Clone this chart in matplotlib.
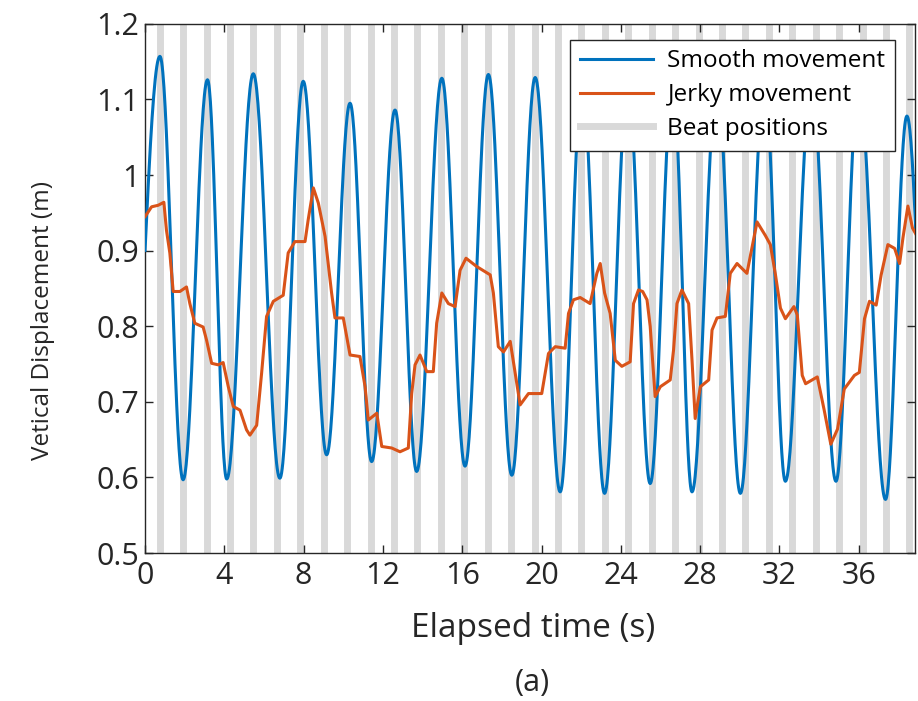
import numpy as np
import matplotlib
matplotlib.use('Agg')
import matplotlib.pyplot as plt

# beat positions (s)
beats = [0.75, 1.93, 3.11, 4.29, 5.47, 6.66, 7.84, 9.02, 10.20, 11.38,
         12.56, 13.74, 14.92, 16.11, 17.29, 18.47, 19.65, 20.83, 22.01,
         23.19, 24.37, 25.56, 26.74, 27.92, 29.10, 30.28, 31.46, 32.64,
         33.82, 35.01, 36.19, 37.37, 38.55]

# smooth movement: turning points (peak / trough) of the blue curve
smooth_t = [-0.83, 0.75, 1.92, 3.15, 4.12, 5.46, 6.80, 7.98, 9.16, 10.34,
            11.43, 12.61, 13.70, 14.97, 16.14, 17.32, 18.50, 19.68, 20.94,
            22.05, 23.18, 24.35, 25.48, 26.62, 27.59, 28.85, 30.03, 31.25,
            32.30, 33.62, 34.85, 36.00, 37.35, 38.43, 39.60]
smooth_v = [0.600, 1.157, 0.597, 1.126, 0.598, 1.134, 0.599, 1.124, 0.630,
            1.095, 0.621, 1.086, 0.608, 1.128, 0.615, 1.133, 0.603, 1.129,
            0.581, 1.120, 0.579, 1.120, 0.592, 1.120, 0.581, 1.120, 0.579,
            1.120, 0.595, 1.120, 0.595, 1.120, 0.571, 1.078, 0.600]

# jerky movement
jerky_t = [0.00, 0.33, 0.66, 0.95, 1.08, 1.25, 1.42, 1.76, 2.09, 2.26,
           2.51, 2.93, 3.10, 3.36, 3.69, 3.94, 4.20, 4.45, 4.79, 5.12,
           5.29, 5.63, 5.88, 6.13, 6.47, 6.97, 7.22, 7.56, 8.07, 8.23,
           8.49, 8.74, 9.08, 9.41, 9.58, 10.00, 10.34, 10.84, 11.10, 11.26,
           11.69, 11.94, 12.44, 12.86, 13.28, 13.45, 13.62, 13.87, 14.21, 14.54,
           14.71, 14.97, 15.30, 15.64, 15.89, 16.19, 16.73, 17.41, 17.57, 17.82,
           18.08, 18.42, 18.67, 18.92, 19.34, 20.01, 20.35, 20.69, 21.19, 21.36,
           21.61, 21.95, 22.45, 22.79, 22.96, 23.18, 23.46, 23.72, 24.05, 24.47,
           24.64, 24.89, 25.10, 25.32, 25.48, 25.73, 25.99, 26.49, 26.66, 26.83,
           27.08, 27.42, 27.59, 27.75, 28.01, 28.43, 28.60, 28.85, 29.27, 29.52,
           29.86, 30.36, 30.62, 30.87, 31.29, 31.54, 31.80, 32.05, 32.30, 32.73,
           32.90, 33.15, 33.32, 33.91, 34.25, 34.59, 34.93, 35.27, 35.78, 36.03,
           36.29, 36.54, 36.88, 37.13, 37.47, 37.81, 38.06, 38.23, 38.48, 38.71,
           38.90]
jerky_v = [0.945, 0.958, 0.960, 0.964, 0.927, 0.897, 0.846, 0.846, 0.852, 0.830,
           0.804, 0.799, 0.782, 0.751, 0.749, 0.752, 0.720, 0.694, 0.689, 0.663,
           0.656, 0.669, 0.738, 0.813, 0.833, 0.841, 0.897, 0.912, 0.912, 0.941,
           0.983, 0.963, 0.919, 0.844, 0.811, 0.811, 0.762, 0.760, 0.720, 0.676,
           0.685, 0.641, 0.639, 0.634, 0.639, 0.711, 0.749, 0.762, 0.740, 0.740,
           0.804, 0.844, 0.830, 0.826, 0.874, 0.890, 0.879, 0.868, 0.844, 0.773,
           0.766, 0.780, 0.738, 0.696, 0.711, 0.711, 0.764, 0.773, 0.771, 0.817,
           0.835, 0.838, 0.830, 0.870, 0.883, 0.844, 0.817, 0.755, 0.747, 0.753,
           0.830, 0.848, 0.846, 0.835, 0.800, 0.707, 0.720, 0.729, 0.769, 0.830,
           0.848, 0.830, 0.755, 0.678, 0.720, 0.729, 0.795, 0.811, 0.813, 0.870,
           0.883, 0.870, 0.905, 0.938, 0.920, 0.908, 0.868, 0.824, 0.810, 0.826,
           0.815, 0.735, 0.724, 0.733, 0.690, 0.644, 0.664, 0.717, 0.735, 0.739,
           0.810, 0.833, 0.828, 0.868, 0.908, 0.903, 0.883, 0.917, 0.959, 0.930,
           0.921]

x_ticks = [0, 4, 8, 12, 16, 20, 24, 28, 32, 36]
y_ticks = [0.5, 0.6, 0.7, 0.8, 0.9, 1.0, 1.1, 1.2]
y_tick_labels = ['0.5', '0.6', '0.7', '0.8', '0.9', '1', '1.1', '1.2']

BLUE = '#0072BD'
ORANGE = '#D95319'
GREY = '#D9D9D9'
INK = '#262626'


def half_waves(ts, vs, n=40):
    # rounded half-cycles between successive turning points
    xs, ys = [], []
    for i in range(len(ts) - 1):
        s = np.linspace(0, 1, n, endpoint=False)
        xs.append(ts[i] + s * (ts[i + 1] - ts[i]))
        ys.append(vs[i] + (vs[i + 1] - vs[i]) * (1 - np.cos(np.pi * s)) / 2)
    xs.append([ts[-1]])
    ys.append([vs[-1]])
    return np.concatenate(xs), np.concatenate(ys)


plt.rcParams['font.family'] = ['Open Sans', 'DejaVu Sans']

fig = plt.figure(figsize=(9.18, 7.01), dpi=100)
ax = fig.add_axes([0.158, 0.211, 0.839, 0.755])

ax.vlines(beats, 0.5, 1.2, color=GREY, lw=5, zorder=1)
st, sv = half_waves(smooth_t, smooth_v)
ax.plot(st, sv, color=BLUE, lw=2.2, zorder=3, label='Smooth movement')
ax.plot(jerky_t, jerky_v, color=ORANGE, lw=2.2, zorder=4,
        solid_joinstyle='round', label='Jerky movement')
ax.plot([], [], color=GREY, lw=5, label='Beat positions')

ax.set_xlim(0, 38.85)
ax.set_ylim(0.5, 1.2)
ax.set_xticks(x_ticks)
ax.set_yticks(y_ticks)
ax.set_yticklabels(y_tick_labels)
ax.tick_params(direction='in', length=6, width=1, colors=INK, labelsize=22,
               top=True, right=True)
ax.tick_params(axis='x', pad=6)
ax.tick_params(axis='y', pad=4)
for sp in ax.spines.values():
    sp.set_color(INK)
    sp.set_linewidth(1.0)

leg = ax.legend(loc='upper right', bbox_to_anchor=(0.974, 0.970),
                borderaxespad=0, fontsize=17.5, frameon=True, fancybox=False,
                handlelength=3.0, handletextpad=0.6, labelspacing=0.4,
                borderpad=0.4)
leg.get_frame().set_edgecolor(INK)
leg.get_frame().set_linewidth(1.0)
leg.get_frame().set_alpha(1)

fig.text(0.047, 0.543, 'Vetical Displacement (m)', rotation=90,
         ha='center', va='center', fontsize=17.5, color=INK)
fig.text(0.581, 0.104, 'Elapsed time (s)', ha='center', va='center',
         fontsize=24, color=INK)
fig.text(0.580, 0.026, '(a)', ha='center', va='center', fontsize=22, color=INK)

fig.savefig('out.png', dpi=100)
